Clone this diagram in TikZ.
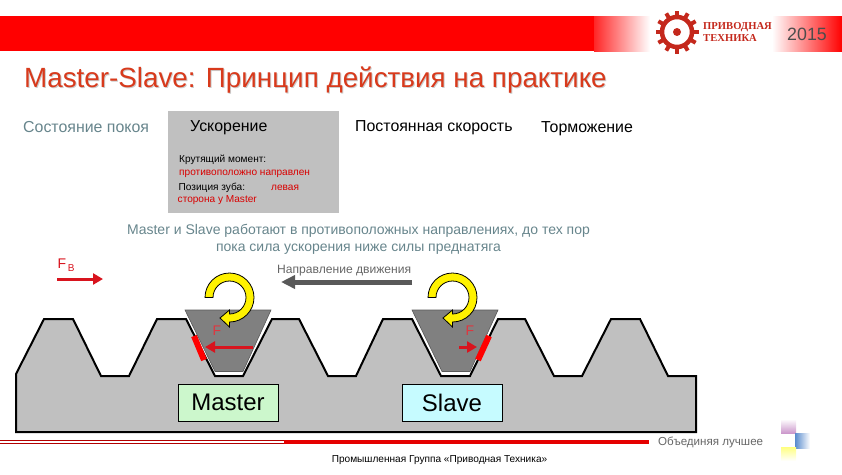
\documentclass[tikz,border=0pt]{standalone}
\usepackage{fontspec}
\setmainfont{Liberation Sans}
\newfontfamily\logofont{Liberation Serif}
\usetikzlibrary{arrows.meta}
\definecolor{barred}{HTML}{FF0000}
\definecolor{logored}{HTML}{C4281C}
\definecolor{titlered}{HTML}{D83A1C}
\definecolor{bluegrey}{HTML}{67858C}
\definecolor{rackgrey}{HTML}{C0C0C0}
\definecolor{toothgrey}{HTML}{808080}
\definecolor{forcered}{HTML}{D8141E}
\definecolor{mastergreen}{HTML}{CCF7CC}
\definecolor{slavecyan}{HTML}{C6FBFF}
\tikzset{
  lbl/.style={anchor=west,inner sep=0pt,font=\fontsize{15.9}{18}\selectfont},
  small/.style={anchor=west,inner sep=0pt,font=\fontsize{10.1}{12}\selectfont},
  force/.style={draw=forcered,line width=3pt,-{Triangle[length=10pt,width=11pt]}},
  namebox/.style={draw=black,line width=0.8pt,minimum width=100pt,minimum height=37pt,inner sep=0pt,font=\fontsize{24}{26}\selectfont}
}
\begin{document}
\begin{tikzpicture}[x=1pt,y=-1pt]
  \useasboundingbox (0,0) rectangle (842,474);
  % top bar
  \fill[barred] (0,16) rectangle (594,51);
  \fill[left color=barred!85!white,right color=white] (594,16) rectangle (650,51);
  \fill[left color=white,right color=barred] (772,16) rectangle (842,51);
  % logo
  \foreach \a in {0,30,...,330}
    \fill[logored,rotate around={\a:(677,32)}] (675,32-21.5) rectangle (679,32-14);
  \draw[logored,line width=4.5pt] (677,32) circle[radius=15];
  \fill[logored] (677,32) circle[radius=4];
  \node[anchor=west,inner sep=0pt,text=logored,font=\logofont\bfseries\fontsize{10.6}{12}\selectfont] (logotop) at (703,27) {ПРИВОДНАЯ};
  \node[anchor=west,inner sep=0pt,text=logored,font=\logofont\bfseries\fontsize{10.6}{12}\selectfont] (logobot) at (703,38) {ТЕХНИКА};
  \node[lbl,text=black!70,font=\fontsize{17.8}{20}\selectfont] (year) at (787,34) {2015};
  % title
  \node[anchor=west,inner sep=0pt,text=black!20,font=\fontsize{27.8}{30}\selectfont] (titleshadow) at (25,81) {Master-Slave: Принцип действия на практике};
  \node[anchor=west,inner sep=0pt,text=titlered,font=\fontsize{27.8}{30}\selectfont] (title) at (24,80) {Master-Slave: Принцип действия на практике};
  % phases
  \fill[rackgrey] (168,111) rectangle (339,213);
  \node[lbl,text=bluegrey] (rest) at (23,127) {Состояние покоя};
  \node[lbl] (accel) at (190,128) {Ускорение};
  \node[lbl] (constv) at (355,128) {Постоянная скорость};
  \node[lbl] (brake) at (541,129) {Торможение};
  \node[small] (torque) at (179,160) {Крутящий момент:};
  \node[small,text=red!85!black] (torquered) at (179,173.5) {противоположно направлен};
  \node[small] (pos) at (178.5,188) {Позиция зуба:};
  \node[small,text=red!85!black] (posred) at (271,188) {левая};
  \node[small,text=red!85!black] (posside) at (177.5,200.5) {сторона у Master};
  \node[text=bluegrey,inner sep=0pt,align=center,font=\fontsize{14}{17}\selectfont] (note) at (358.5,239.5) {Master и Slave работают в противоположных направлениях, до тех пор\\пока сила ускорения ниже силы преднатяга};
  % feed force
  \node[anchor=west,inner sep=0pt,text=forcered,font=\fontsize{14}{16}\selectfont] (fb) at (57.5,265) {F\hspace{1.5pt}\raisebox{-2.5pt}{\fontsize{10}{12}\selectfont В}};
  \coordinate (fbstart) at (57,279);
  \coordinate (fbend) at (103,279);
  \draw[force] (fbstart) -- (fbend);
  \node[anchor=west,inner sep=0pt,text=black!60,font=\fontsize{12.1}{14}\selectfont] (motion) at (277,271) {Направление движения};
  \coordinate (motionstart) at (412,282);
  \coordinate (motionend) at (281,282);
  \draw[draw=black!65,line width=5pt,-{Triangle[length=14pt,width=13pt]}] (motionstart) -- (motionend);
  % rack
  \filldraw[fill=rackgrey,draw=black,line width=2pt,line join=miter]
    (16,432) -- (16,374) -- (44,319) -- (73,319) -- (101,376) -- (129,376) -- (157,319)
    -- (186,319) -- (215,376) -- (243,376) -- (272,319) -- (299,319) -- (328,376) -- (356,376)
    -- (383,319) -- (412,319) -- (441,376) -- (470,376) -- (498,319) -- (525,319) -- (554,376)
    -- (582,376) -- (611,319) -- (640,319) -- (668,376) -- (696,376) -- (696,432) -- cycle;
  % teeth
  \filldraw[fill=toothgrey,draw=black!65,line width=0.6pt] (185,310) -- (271,310) -- (243,371.5) -- (215,371.5) -- cycle;
  \filldraw[fill=toothgrey,draw=black!65,line width=0.6pt] (412,310) -- (498,310) -- (470,371.5) -- (442,371.5) -- cycle;
  \foreach \cx in {229.5,452.5}
    \filldraw[shift={(\cx,297.5)},fill=yellow,draw=black,line width=0.8pt]
      (180:24.5) arc[start angle=180,end angle=450,radius=24.5]
      -- (0,29.5) -- (-9.5,20.5) -- (0,12.5) -- (450:16.5)
      arc[start angle=450,end angle=180,radius=16.5] -- cycle;
  % forces
  \draw[red,line width=6pt] (194,336) -- (204,360);
  \draw[red,line width=6pt] (489,336) -- (478,360);
  \coordinate (mforce) at (253,347);
  \coordinate (mpad) at (205,347);
  \coordinate (sforce) at (459,347);
  \coordinate (spad) at (477,347);
  \draw[force] (mforce) -- (mpad);
  \draw[force] (sforce) -- (spad);
  \node[text=forcered!85!white,inner sep=0pt,font=\fontsize{14}{16}\selectfont] (fm) at (217,331) {F};
  \node[text=forcered!85!white,inner sep=0pt,font=\fontsize{14}{16}\selectfont] (fs) at (470,331) {F};
  \node[namebox,fill=mastergreen] (master) at (228,402.5) {Master};
  \node[namebox,fill=slavecyan] (slave) at (452,402.5) {Slave};
  % footer
  \draw[red!70!black,line width=0.5pt] (0,440.5) -- (285,440.5);
  \draw[red!70!black,line width=0.5pt] (0,443) -- (285,443);
  \fill[red!90!black] (284,440) rectangle (649,444);
  \node[anchor=west,inner sep=0pt,text=black!60,font=\fontsize{11.6}{14}\selectfont] (slogan) at (658,442) {Объединяя лучшее};
  \fill[top color=white,bottom color=violet!40!white] (781,419) rectangle (796,433);
  \fill[left color=teal!60!blue!65!white,right color=white] (795,433) rectangle (810,448);
  \fill[top color=yellow!50!white,bottom color=white] (781,447) rectangle (796,461);
  \node[inner sep=0pt,font=\fontsize{10.1}{12}\selectfont] (company) at (439.5,460) {Промышленная Группа «Приводная Техника»};
\end{tikzpicture}
\end{document}
